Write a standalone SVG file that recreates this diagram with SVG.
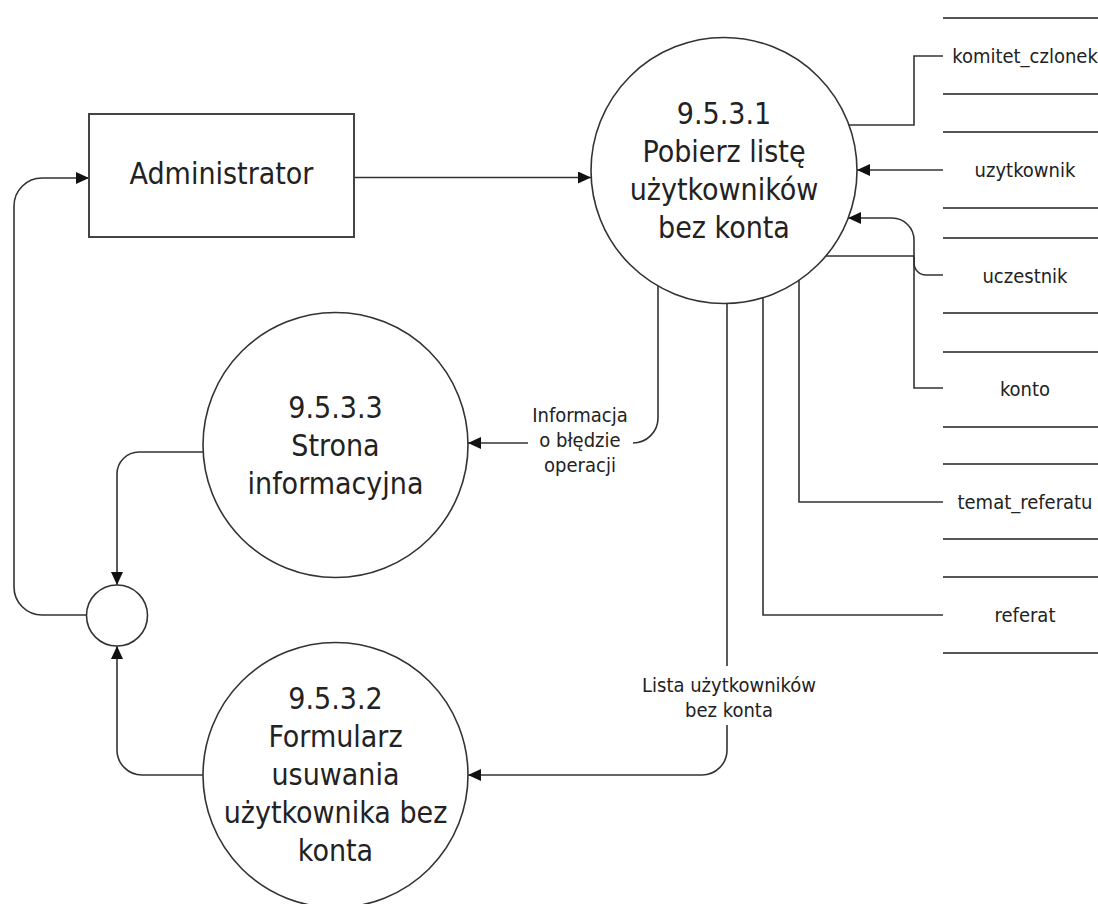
<svg xmlns="http://www.w3.org/2000/svg" width="1098" height="904" viewBox="0 0 1098 904">
<defs>
<style>
.shape{fill:#fff;stroke:#333;stroke-width:1.6}
.box{fill:#fff;stroke:#444;stroke-width:2}
.conn{fill:none;stroke:#333;stroke-width:1.6}
.store{stroke:#555;stroke-width:2.2}
.big{font-family:'DejaVu Sans Condensed','DejaVu Sans',sans-serif;font-stretch:condensed;font-size:30px;fill:#222;text-anchor:middle}
.lbl{font-family:'DejaVu Sans Condensed','DejaVu Sans',sans-serif;font-stretch:condensed;font-size:20px;fill:#222;text-anchor:middle}
</style>
<marker id="arr" viewBox="0 0 13 12" refX="13" refY="6" markerWidth="13" markerHeight="12" markerUnits="userSpaceOnUse" orient="auto">
<path d="M0,0 L13,6 L0,12 Z" fill="#111"/>
</marker>
</defs>
<rect width="1098" height="904" fill="#fff"/>

<g id="stores">
<g id="store-komitet_czlonek">
<line class="store" x1="943" y1="18" x2="1098" y2="18"/>
<line class="store" x1="943" y1="94" x2="1098" y2="94"/>
<text class="lbl" x="1025" y="63">komitet_czlonek</text>
</g>
<g id="store-uzytkownik">
<line class="store" x1="943" y1="132" x2="1098" y2="132"/>
<line class="store" x1="943" y1="208" x2="1098" y2="208"/>
<text class="lbl" x="1025" y="177">uzytkownik</text>
</g>
<g id="store-uczestnik">
<line class="store" x1="943" y1="238" x2="1098" y2="238"/>
<line class="store" x1="943" y1="313" x2="1098" y2="313"/>
<text class="lbl" x="1025" y="283">uczestnik</text>
</g>
<g id="store-konto">
<line class="store" x1="943" y1="352" x2="1098" y2="352"/>
<line class="store" x1="943" y1="427" x2="1098" y2="427"/>
<text class="lbl" x="1025" y="396">konto</text>
</g>
<g id="store-temat_referatu">
<line class="store" x1="943" y1="464" x2="1098" y2="464"/>
<line class="store" x1="943" y1="539" x2="1098" y2="539"/>
<text class="lbl" x="1025" y="509">temat_referatu</text>
</g>
<g id="store-referat">
<line class="store" x1="943" y1="577" x2="1098" y2="577"/>
<line class="store" x1="943" y1="653" x2="1098" y2="653"/>
<text class="lbl" x="1025" y="622">referat</text>
</g>
</g>

<g id="connectors">
<!-- Administrator -> 9.5.3.1 -->
<path class="conn" d="M354,177.5 L591,177.5" marker-end="url(#arr)"/>
<!-- komitet_czlonek -->
<path class="conn" d="M849,125 L914,125 L914,56 L943,56"/>
<!-- uzytkownik -> 9.5.3.1 -->
<path class="conn" d="M943,170 L857,170" marker-end="url(#arr)"/>
<!-- uczestnik -> 9.5.3.1 -->
<path class="conn" d="M943,275 L926,275 A12,12 0 0 1 914,263 L914,240 A22,22 0 0 0 892,218 L848,218" marker-end="url(#arr)"/>
<!-- konto -->
<path class="conn" d="M826,256 L914,256 L914,388 L943,388"/>
<!-- temat_referatu -->
<path class="conn" d="M799,280 L799,502 L943,502"/>
<!-- referat -->
<path class="conn" d="M763,298 L763,615 L943,615"/>
<!-- Informacja o bledzie operacji -->
<path class="conn" d="M658,286 L658,418 A25,25 0 0 1 633,443"/>
<path class="conn" d="M528,443 L468,443" marker-end="url(#arr)"/>
<text class="lbl" x="580" y="422">Informacja</text>
<text class="lbl" x="580" y="447">o błędzie</text>
<text class="lbl" x="580" y="472">operacji</text>
<!-- Lista uzytkownikow bez konta -->
<path class="conn" d="M727,303 L727,666"/>
<path class="conn" d="M727,725 L727,750 A25,25 0 0 1 702,775 L468,775" marker-end="url(#arr)"/>
<text class="lbl" x="729" y="692">Lista użytkowników</text>
<text class="lbl" x="729" y="717">bez konta</text>
<!-- 9.5.3.3 -> junction -->
<path class="conn" d="M203,452 L139,452 A22,22 0 0 0 117,474 L117,585" marker-end="url(#arr)"/>
<!-- 9.5.3.2 -> junction -->
<path class="conn" d="M204,775 L142,775 A25,25 0 0 1 117,750 L117,646" marker-end="url(#arr)"/>
<!-- junction -> Administrator -->
<path class="conn" d="M86,615 L42,615 A28,28 0 0 1 14,587 L14,206 A28,28 0 0 1 42,178 L89,178" marker-end="url(#arr)"/>
</g>

<g id="administrator">
<rect class="box" x="89" y="114" width="265" height="123"/>
<text class="big" x="221.5" y="184">Administrator</text>
</g>

<g id="p9531">
<circle class="shape" cx="724" cy="170.5" r="133"/>
<text class="big" x="724" y="124">9.5.3.1</text>
<text class="big" x="724" y="162">Pobierz listę</text>
<text class="big" x="724" y="200">użytkowników</text>
<text class="big" x="724" y="238">bez konta</text>
</g>

<g id="p9533">
<circle class="shape" cx="335.5" cy="445" r="132.5"/>
<text class="big" x="335.5" y="418">9.5.3.3</text>
<text class="big" x="335.5" y="456">Strona</text>
<text class="big" x="335.5" y="494">informacyjna</text>
</g>

<g id="p9532">
<circle class="shape" cx="335.5" cy="775" r="132.5"/>
<text class="big" x="335.5" y="709">9.5.3.2</text>
<text class="big" x="335.5" y="747">Formularz</text>
<text class="big" x="335.5" y="785">usuwania</text>
<text class="big" x="335.5" y="823">użytkownika bez</text>
<text class="big" x="335.5" y="861">konta</text>
</g>

<g id="junction">
<circle class="shape" cx="117" cy="615.5" r="30.5"/>
</g>
</svg>
